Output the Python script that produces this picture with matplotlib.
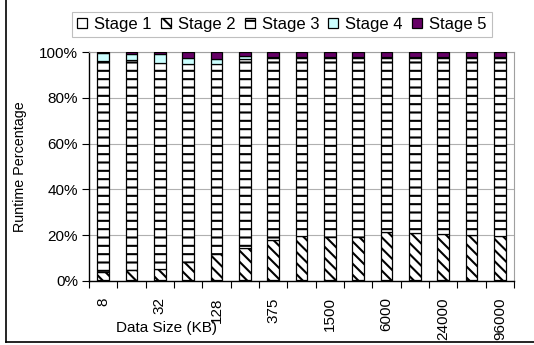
import matplotlib.pyplot as plt
import numpy as np
from matplotlib.lines import Line2D
from matplotlib.ticker import FixedLocator

plt.rcParams['font.family'] = ['Liberation Sans', 'DejaVu Sans']
plt.rcParams['hatch.linewidth'] = 1.5

############# DATA #############
sizes = ['8', '16', '32', '64', '128', '250', '375', '750', '1500',
         '3000', '6000', '12000', '24000', '48000', '96000']

# runtime share per stage [%]
stage1 = [0.2, 0.2, 0.2, 0.2, 0.2, 0.2, 0.2, 0.2, 0.2, 0.2, 0.2, 0.2, 0.2, 0.2, 0.2]
stage2 = [3.8, 4.5, 5.1, 8.0, 11.5, 14.2, 17.5, 19.4, 19.1, 19.1, 21.2, 20.7, 20.3, 20.0, 19.4]
stage3 = [92.4, 92.0, 89.9, 86.8, 83.3, 82.6, 79.7, 77.9, 78.4, 78.4, 76.3, 76.8, 77.2, 77.5, 78.1]
stage4 = [3.2, 2.5, 4.0, 2.5, 2.0, 1.5, 0.6, 0.5, 0.3, 0.3, 0.3, 0.3, 0.3, 0.3, 0.3]
stage5 = [0.4, 0.8, 0.8, 2.5, 3.0, 1.5, 2.0, 2.0, 2.0, 2.0, 2.0, 2.0, 2.0, 2.0, 2.0]

stages = [stage1, stage2, stage3, stage4, stage5]
names = ['Stage 1', 'Stage 2', 'Stage 3', 'Stage 4', 'Stage 5']
colors = ['white', 'white', 'white', '#ccffff', '#660066']
hatches = [None, '\\\\\\', '--', None, None]

fig = plt.figure(figsize=(5.34, 3.45), dpi=100)
ax = fig.add_axes([0.1667, 0.1864, 0.7958, 0.662])

x = np.arange(len(sizes))
bottom = np.zeros(len(sizes))
for vals, name, c, h in zip(stages, names, colors, hatches):
    ax.bar(x, vals, width=0.42, bottom=bottom, color=c, edgecolor='black',
           linewidth=0.9, hatch=h, label=name, zorder=3)
    bottom += np.array(vals)

ax.set_xlim(-0.5, len(sizes) - 0.5)
ax.set_ylim(0, 100)
ax.set_yticks([0, 20, 40, 60, 80, 100])
ax.set_yticklabels(['0%', '20%', '40%', '60%', '80%', '100%'], fontsize=11)
ax.yaxis.grid(True, color='#b0b0b0', linewidth=0.8, zorder=0)

# tick marks between categories, labels on every other bar
ax.xaxis.set_major_locator(FixedLocator(np.arange(-0.5, len(sizes), 1.0)))
ax.set_xticklabels([])
ax.xaxis.set_minor_locator(FixedLocator(x[::2]))
ax.set_xticklabels(sizes[::2], minor=True, rotation=90, fontsize=11, va='top')
ax.tick_params(axis='x', which='major', length=5, direction='out')
ax.tick_params(axis='x', which='minor', length=0, pad=12)
ax.tick_params(axis='y', length=5, direction='out', pad=3)

for s in ['top', 'right']:
    ax.spines[s].set_color('#a0a0a0')
for s in ['left', 'bottom']:
    ax.spines[s].set_linewidth(1.0)

fig.text(167 / 534, 0.049, 'Data Size (KB)', ha='center', va='center', fontsize=11)
fig.text(0.037, 0.516, 'Runtime Percentage', ha='center', va='center',
         rotation=90, fontsize=10.3)

leg = fig.legend(loc='center', bbox_to_anchor=(0.528, 0.929), ncol=5,
                 fontsize=12, frameon=True, fancybox=False, edgecolor='#b0b0b0',
                 handlelength=0.6, handleheight=0.6, handletextpad=0.42,
                 columnspacing=0.55, borderpad=0.3, borderaxespad=0)
leg.get_frame().set_linewidth(0.8)

# outer chart border (left and bottom visible in the crop)
fig.add_artist(Line2D([6 / 534, 6 / 534], [3 / 345, 1.0], color='black', linewidth=1.2))
fig.add_artist(Line2D([6 / 534, 1.0], [3 / 345, 3 / 345], color='black', linewidth=1.2))

fig.savefig('out.png', dpi=100)
